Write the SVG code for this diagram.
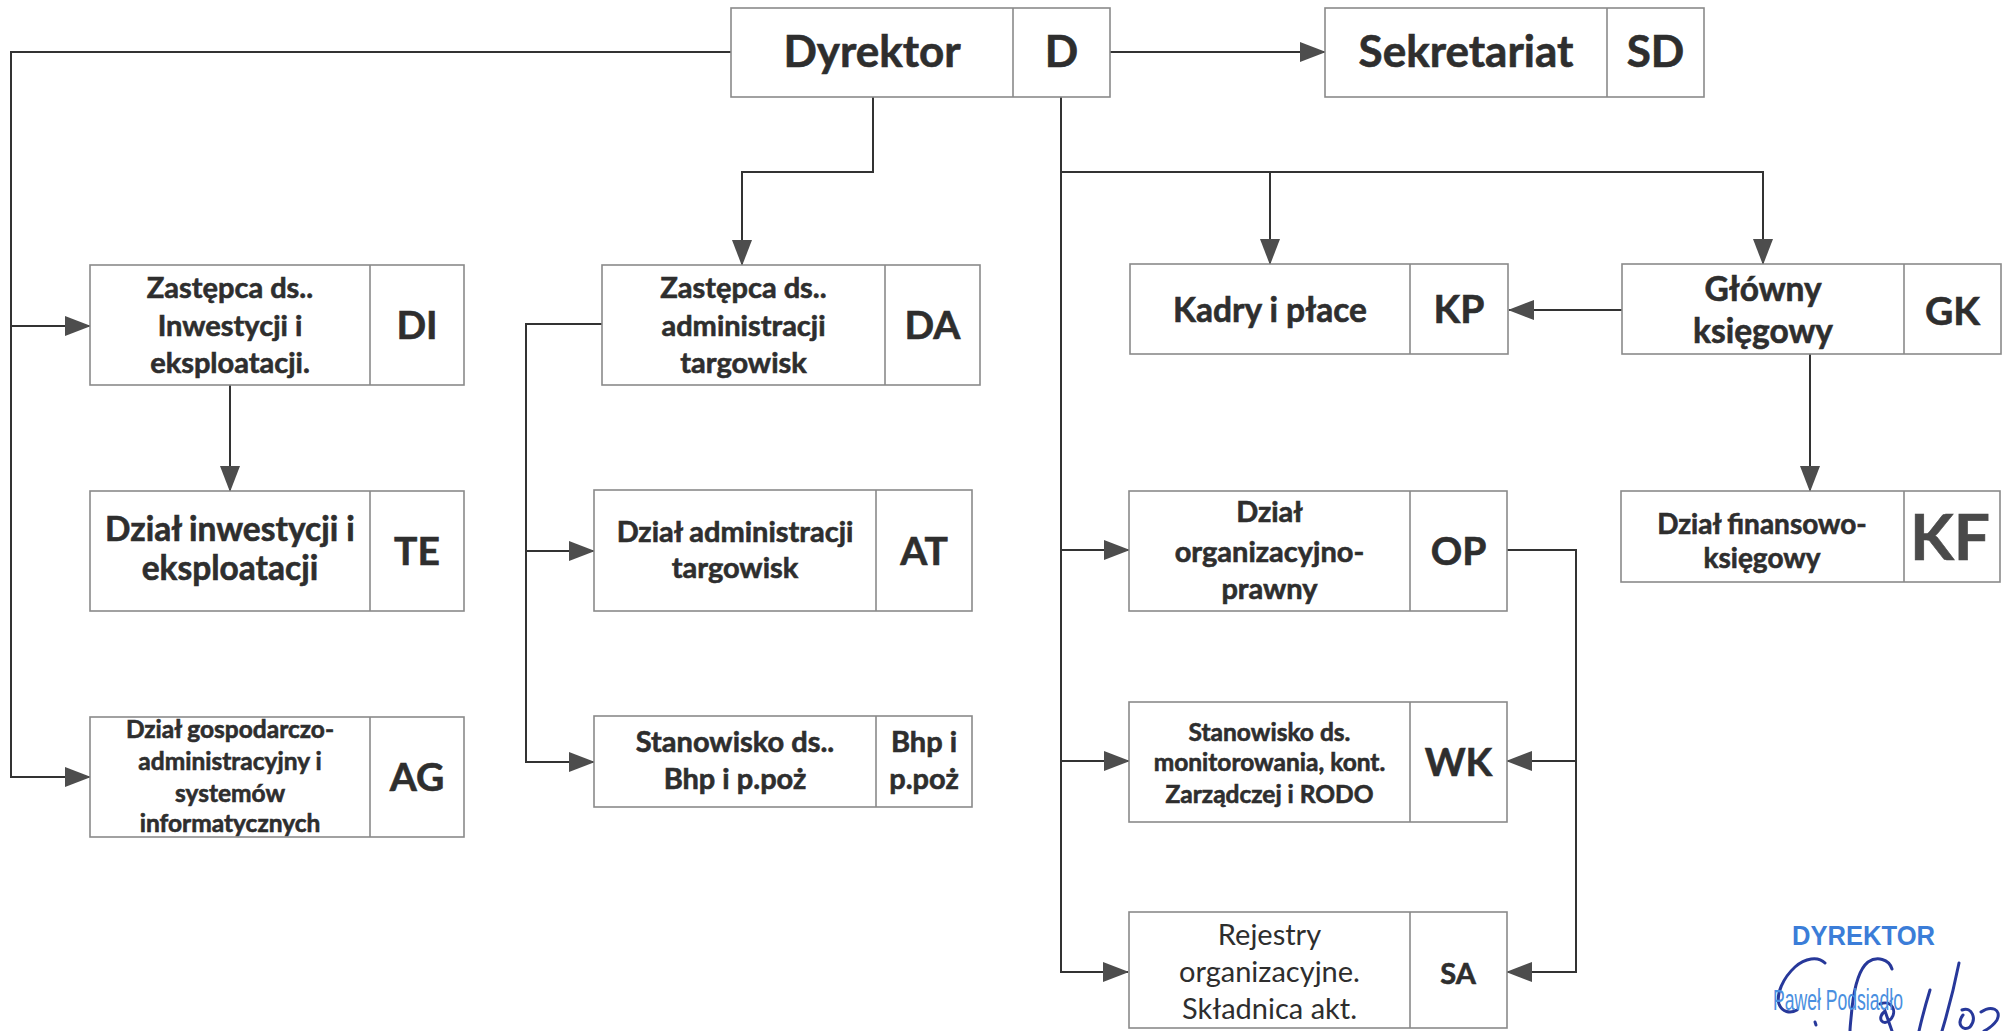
<svg xmlns="http://www.w3.org/2000/svg" width="2004" height="1031" viewBox="0 0 2004 1031">
<defs>
<marker id="arr" markerUnits="userSpaceOnUse" markerWidth="26" markerHeight="20" refX="25" refY="10" orient="auto"><path d="M0,0 L26,10 L0,20 z" fill="#4d4d4d"/></marker>
<style>
.box rect{fill:#fff;stroke:#8a8a8a;stroke-width:1.6}
.box line{stroke:#8a8a8a;stroke-width:1.6}
text{font-family:Lato,"Liberation Sans",sans-serif;fill:#2e2e2e;text-anchor:middle;font-weight:700;stroke:#2e2e2e;stroke-width:0.6}
.h1{font-size:44px}
.code{font-size:39px}
.kf{font-size:64px;fill:#4a4a4a;stroke:#4a4a4a}
.s32{font-size:33.5px}
.s29{font-size:28px}
.s28{font-size:29px}
.s23{font-size:24.5px}
.reg{font-size:29px;font-weight:400;stroke:none}
.sa{font-size:29px}
.conn path{fill:none;stroke:#333;stroke-width:2}
.stamp1{font-family:"Liberation Sans",Arial,sans-serif;font-weight:700;text-anchor:start;fill:#3b7dd8;stroke:none;font-size:27px}
.stamp2{font-family:"Liberation Sans",Arial,sans-serif;font-weight:400;text-anchor:start;fill:#4a8fe0;stroke:none;font-size:29px}
.sig path{fill:none;stroke:#27389a;stroke-width:3;stroke-linecap:round}
</style>
</defs>
<rect width="2004" height="1031" fill="#fff"/>

<g id="connectors" class="conn">
<path d="M731,52 H11 V777 H90" marker-end="url(#arr)"/>
<path d="M11,326 H90" marker-end="url(#arr)"/>
<path d="M1110,52 H1325" marker-end="url(#arr)"/>
<path d="M873,97 V172 H742 V265" marker-end="url(#arr)"/>
<path d="M230,385 V491" marker-end="url(#arr)"/>
<path d="M602,324 H526 V762 H594" marker-end="url(#arr)"/>
<path d="M526,551 H594" marker-end="url(#arr)"/>
<path d="M1061,97 V972 H1128" marker-end="url(#arr)"/>
<path d="M1061,172 H1763 V264" marker-end="url(#arr)"/>
<path d="M1270,172 V264" marker-end="url(#arr)"/>
<path d="M1061,550 H1129" marker-end="url(#arr)"/>
<path d="M1061,761 H1129" marker-end="url(#arr)"/>
<path d="M1622,310 H1509" marker-end="url(#arr)"/>
<path d="M1810,354 V491" marker-end="url(#arr)"/>
<path d="M1507,550 H1576 V972 H1507" marker-end="url(#arr)"/>
<path d="M1576,761 H1507" marker-end="url(#arr)"/>
</g>

<g id="node-D" class="box">
<rect x="731" y="8" width="379" height="89"/><line x1="1013" y1="8" x2="1013" y2="97"/>
<text class="h1" x="872" y="67">Dyrektor</text><text class="h1" x="1061.5" y="67">D</text>
</g>
<g id="node-SD" class="box">
<rect x="1325" y="8" width="379" height="89"/><line x1="1607" y1="8" x2="1607" y2="97"/>
<text class="h1" x="1466" y="67">Sekretariat</text><text class="h1" x="1655.5" y="67">SD</text>
</g>
<g id="node-DI" class="box">
<rect x="90" y="265" width="374" height="120"/><line x1="370" y1="265" x2="370" y2="385"/>
<text class="s28" x="230" y="298">Zastępca ds..</text>
<text class="s28" x="230" y="336">Inwestycji i</text>
<text class="s28" x="230" y="373">eksploatacji.</text>
<text class="code" x="417" y="339">DI</text>
</g>
<g id="node-TE" class="box">
<rect x="90" y="491" width="374" height="120"/><line x1="370" y1="491" x2="370" y2="611"/>
<text class="s32" x="230" y="541">Dział inwestycji i</text>
<text class="s32" x="230" y="580">eksploatacji</text>
<text class="code" x="417" y="565">TE</text>
</g>
<g id="node-AG" class="box">
<rect x="90" y="717" width="374" height="120"/><line x1="370" y1="717" x2="370" y2="837"/>
<text class="s23" x="230" y="738">Dział gospodarczo-</text>
<text class="s23" x="230" y="770">administracyjny i</text>
<text class="s23" x="230" y="801.5">systemów</text>
<text class="s23" x="230" y="832">informatycznych</text>
<text class="code" x="417" y="791">AG</text>
</g>
<g id="node-DA" class="box">
<rect x="602" y="265" width="378" height="120"/><line x1="885" y1="265" x2="885" y2="385"/>
<text class="s28" x="743.5" y="298">Zastępca ds..</text>
<text class="s28" x="743.5" y="336">administracji</text>
<text class="s28" x="743.5" y="373">targowisk</text>
<text class="code" x="932.5" y="339">DA</text>
</g>
<g id="node-AT" class="box">
<rect x="594" y="490" width="378" height="121"/><line x1="876" y1="490" x2="876" y2="611"/>
<text class="s28" x="735" y="541.5">Dział administracji</text>
<text class="s28" x="735" y="578">targowisk</text>
<text class="code" x="924" y="565">AT</text>
</g>
<g id="node-BHP" class="box">
<rect x="594" y="716" width="378" height="91"/><line x1="876" y1="716" x2="876" y2="807"/>
<text class="s28" x="735" y="752">Stanowisko ds..</text>
<text class="s28" x="735" y="789">Bhp i p.poż</text>
<text class="s28" x="924" y="752">Bhp i</text>
<text class="s28" x="924" y="789">p.poż</text>
</g>
<g id="node-KP" class="box">
<rect x="1130" y="264" width="378" height="90"/><line x1="1410" y1="264" x2="1410" y2="354"/>
<text class="s32" x="1270" y="322">Kadry i płace</text>
<text class="code" x="1459" y="322.5">KP</text>
</g>
<g id="node-GK" class="box">
<rect x="1622" y="264" width="379" height="90"/><line x1="1904" y1="264" x2="1904" y2="354"/>
<text class="s32" x="1763" y="300.5">Główny</text>
<text class="s32" x="1763" y="342.5">księgowy</text>
<text class="code" x="1952.5" y="325">GK</text>
</g>
<g id="node-KF" class="box">
<rect x="1621" y="491" width="379" height="91"/><line x1="1904" y1="491" x2="1904" y2="582"/>
<text class="s29" x="1762" y="533.5">Dział finansowo-</text>
<text class="s29" x="1762" y="567.5">księgowy</text>
<text class="kf" x="1950" y="560">KF</text>
</g>
<g id="node-OP" class="box">
<rect x="1129" y="491" width="378" height="120"/><line x1="1410" y1="491" x2="1410" y2="611"/>
<text class="s28" x="1269.5" y="521.5">Dział</text>
<text class="s28" x="1269.5" y="561.5">organizacyjno-</text>
<text class="s28" x="1269.5" y="598.5">prawny</text>
<text class="code" x="1458.5" y="565">OP</text>
</g>
<g id="node-WK" class="box">
<rect x="1129" y="702" width="378" height="120"/><line x1="1410" y1="702" x2="1410" y2="822"/>
<text class="s23" x="1269.5" y="740.5">Stanowisko ds.</text>
<text class="s23" x="1269.5" y="771">monitorowania, kont.</text>
<text class="s23" x="1269.5" y="802.5">Zarządczej i RODO</text>
<text class="code" x="1458.5" y="775.5">WK</text>
</g>
<g id="node-SA" class="box">
<rect x="1129" y="912" width="378" height="116"/><line x1="1410" y1="912" x2="1410" y2="1028"/>
<text class="reg" x="1269.5" y="945">Rejestry</text>
<text class="reg" x="1269.5" y="982">organizacyjne.</text>
<text class="reg" x="1269.5" y="1018.5">Składnica akt.</text>
<text class="sa" x="1458" y="983.5">SA</text>
</g>

<g id="signature">
<text class="stamp1" x="1792" y="945" textLength="143" lengthAdjust="spacingAndGlyphs">DYREKTOR</text>
<g class="sig">
<path d="M1825,963 C1818,956 1805,958 1795,967 C1783,978 1776,994 1779,1004 C1782,1012 1790,1014 1797,1010"/>
<path d="M1815,1022 l1,3"/>
<path d="M1892,969 C1889,959 1877,956 1868,962 C1858,970 1854,990 1852,1008 C1851,1019 1850,1027 1850,1031"/>
<path d="M1880,1004 C1892,999 1898,1012 1890,1020 C1883,1027 1876,1018 1885,1011 L1892,1031"/>
<path d="M1930,990 C1926,1003 1922,1018 1919,1031"/>
<path d="M1959,963 C1954,988 1948,1011 1942,1031"/>
<path d="M1962,1010 C1972,1006 1977,1019 1970,1027 C1963,1032 1956,1024 1963,1015"/>
<path d="M1981,1012 C1991,1005 2002,1009 1997,1020 C1993,1026 1986,1030 1984,1031"/>
</g>
<text class="stamp2" x="1773" y="1010" textLength="130" lengthAdjust="spacingAndGlyphs">Paweł Podsiadło</text>
</g>
</svg>
